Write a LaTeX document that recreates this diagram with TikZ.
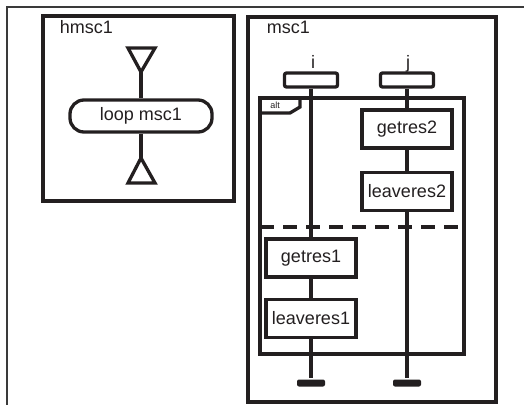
\documentclass[tikz,border=0pt]{standalone}
\usepackage{fontspec}
\setmainfont{Liberation Sans}
\usetikzlibrary{positioning}
\definecolor{ink}{HTML}{231F20}
\definecolor{rim}{HTML}{3A3A3A}

\begin{document}
\begin{tikzpicture}[x=1pt,y=-1pt,line width=3.3pt,draw=ink,
  every node/.style={font=\fontsize{18}{20}\selectfont,text=ink},
  actbox/.style={draw=ink,fill=white,minimum width=90pt,minimum height=38pt,inner sep=0pt},
  headbox/.style={draw=ink,fill=white,rounded corners=2pt,minimum width=53pt,minimum height=14pt,inner sep=0pt},
  stopbar/.style={fill=ink,rounded corners=2pt,minimum width=28pt,minimum height=7pt,inner sep=0pt}]
  \useasboundingbox (0,0) rectangle (524,407);
  % outer window edge
  \draw[rim,line width=2.2pt] (524,7) -- (7,7) -- (7,405);

  % hmsc1
  \draw (43,16) rectangle (234,201);
  \node[anchor=base west] (hname) at (55,33) {hmsc1};
  \node[draw=ink,rounded corners=14pt,minimum width=142pt,minimum height=32pt,inner sep=0pt] (loop) at (141,116) {loop msc1};
  \coordinate (hin) at (141,72);
  \coordinate (hout) at (141,158);
  \draw (128,48) -- (155,48) -- (hin) -- cycle;
  \draw (hout) -- (128,183) -- (155,183) -- cycle;
  \draw (hin) -- (loop);
  \draw (loop) -- (hout);

  % msc1
  \draw (248,17) rectangle (496,402);
  \node[anchor=base west] (mname) at (262,33) {msc1};

  % alt frame
  \draw (260,98) rectangle (464,354);
  \draw (300,98) -- (300,107) -- (290,113) -- (260,113);
  \node[font=\fontsize{9}{10}\selectfont,inner sep=0pt] (alt) at (275,105) {alt};
  \draw[dash pattern=on 14pt off 9pt] (260,227) -- (464,227);

  % instances
  \node[headbox] (ihead) at (311,80) {};
  \node[headbox] (jhead) at (407,80) {};
  \node[anchor=base] (iname) at (313,68) {i};
  \node[anchor=base] (jname) at (408,68) {j};

  \node[actbox] (getres2) at (407,129) {getres2};
  \node[actbox,below=21pt of getres2] (leaveres2) {leaveres2};
  \node[actbox] (getres1) at (311,258) {getres1};
  \node[actbox,below=19pt of getres1] (leaveres1) {leaveres1};

  \node[stopbar] (istop) at (311,383) {};
  \node[stopbar] (jstop) at (407,383) {};

  \draw (ihead) -- (getres1);
  \draw (getres1) -- (leaveres1);
  \draw (leaveres1) -- (istop);
  \draw (jhead) -- (getres2);
  \draw (getres2) -- (leaveres2);
  \draw (leaveres2) -- (jstop);
\end{tikzpicture}
\end{document}
